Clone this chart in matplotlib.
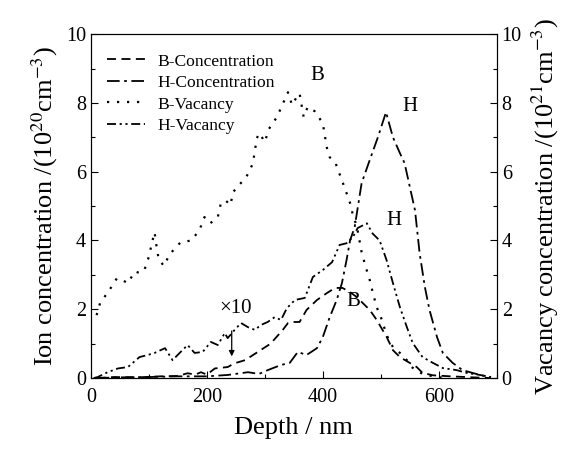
# ion / vacancy depth profiles
import numpy as np
import matplotlib
matplotlib.use("Agg")
import matplotlib.pyplot as plt

plt.rcParams['font.family'] = 'Liberation Serif'
plt.rcParams['mathtext.fontset'] = 'stix'

# data
b_conc_x = [10, 40, 80, 120, 150, 167, 180, 190, 200, 214, 236, 248, 266, 288, 310, 331, 340, 348, 360, 372,
            390, 407, 421, 434, 447, 459, 469, 481, 493, 503, 510, 521, 533, 550, 562, 572, 590, 620, 660, 690]
b_conc_y = [0.0, 0.03, 0.02, 0.05, 0.06, 0.14, 0.1, 0.17, 0.1, 0.28, 0.32, 0.43, 0.52, 0.76, 1.0, 1.4, 1.6, 1.63, 1.63, 1.98,
            2.27, 2.47, 2.62, 2.62, 2.5, 2.35, 2.18, 1.98, 1.69, 1.4, 1.2, 0.81, 0.61, 0.44, 0.32, 0.15, 0.08, 0.05, 0.02, 0.0]

h_conc_x = [10, 50, 100, 150, 200, 236, 271, 290, 305, 328, 343, 357, 372, 390, 400, 412, 424, 433, 441, 447,
            455, 467, 481, 495, 509, 521, 533, 541, 559, 567, 576, 584, 597, 607, 624, 641, 671, 690]
h_conc_y = [0.0, 0.02, 0.03, 0.05, 0.05, 0.09, 0.17, 0.12, 0.23, 0.38, 0.44, 0.76, 0.67, 0.87, 1.19, 1.77, 2.27, 2.76, 3.43, 4.0,
            4.39, 5.67, 6.34, 7.0, 7.73, 7.0, 6.54, 6.25, 4.88, 3.63, 2.65, 1.98, 1.19, 0.73, 0.44, 0.23, 0.09, 0.02]

b_vac_x = [10, 16, 31, 45, 54, 64, 76, 85, 93, 100, 105, 110, 113, 117, 126, 136, 155, 174, 188, 196,
           206, 219, 224, 232, 241, 245, 255, 268, 279, 283, 286, 291, 300, 307, 321, 331, 340, 347, 355, 360,
           367, 374, 386, 400, 407, 412, 422, 431, 438, 447, 452, 459, 467, 474, 481, 486, 493, 502, 510, 521,
           533, 545, 553, 572, 590, 610]
b_vac_y = [1.83, 2.18, 2.53, 2.9, 2.85, 2.76, 3.1, 3.05, 3.17, 3.52, 3.9, 4.24, 3.87, 3.46, 3.26, 3.6, 3.95, 4.0, 4.33, 4.68,
           4.5, 4.68, 5.06, 5.17, 5.03, 5.4, 5.6, 5.84, 6.22, 6.6, 6.97, 7.12, 6.86, 7.24, 7.59, 7.97, 8.31, 7.94, 8.17, 8.28,
           7.59, 7.88, 7.76, 7.41, 6.7, 6.42, 6.25, 5.84, 5.52, 5.09, 4.74, 4.39, 3.66, 3.23, 2.85, 2.5, 2.06, 1.69, 1.25, 0.9,
           0.73, 0.52, 0.32, 0.12, 0.05, 0.0]

h_vac_x = [5, 12, 29, 47, 64, 84, 98, 110, 128, 141, 155, 167, 179, 193, 207, 219, 231, 236, 248, 259,
           271, 283, 293, 305, 317, 328, 338, 352, 369, 383, 400, 416, 429, 441, 452, 460, 476, 486, 498, 510,
           521, 533, 545, 555, 572, 590, 607, 631, 648, 671, 690]
h_vac_y = [0.0, 0.03, 0.17, 0.28, 0.32, 0.61, 0.67, 0.73, 0.87, 0.52, 0.76, 0.96, 0.73, 0.76, 1.05, 0.96, 1.31, 1.16, 1.4, 1.6,
           1.48, 1.4, 1.54, 1.63, 1.77, 1.69, 2.03, 2.27, 2.33, 2.94, 3.14, 3.37, 3.87, 3.92, 4.1, 4.36, 4.5, 4.2, 4.0, 3.43,
           2.76, 2.06, 1.48, 1.02, 0.61, 0.44, 0.29, 0.23, 0.15, 0.09, 0.03]

fig = plt.figure(figsize=(5.71, 4.49), dpi=100)
ax = fig.add_axes([0.159, 0.158, 0.711, 0.766])
ax2 = ax.twinx()

lw = 1.3
l1, = ax.plot(b_conc_x, b_conc_y, color='black', lw=lw, linestyle=(0, (5, 3)), label='B-Concentration')
l2, = ax.plot(h_conc_x, h_conc_y, color='black', lw=lw, linestyle=(0, (7, 2.5, 1.5, 2.5)), label='H-Concentration')
l3, = ax2.plot(b_vac_x, b_vac_y, color='black', lw=1.6, linestyle=(0, (1, 3.5)), label='B-Vacancy')
l4, = ax2.plot(h_vac_x, h_vac_y, color='black', lw=lw, linestyle=(0, (5, 2, 1.2, 2, 1.2, 2)), label='H-Vacancy')

for a in (ax, ax2):
    a.set_xlim(0, 700)
    a.set_ylim(0, 10)
    a.set_yticks([0, 2, 4, 6, 8, 10])
    a.set_yticks(np.arange(1, 10, 2), minor=True)
    a.tick_params(direction='in', labelsize=14.5, length=5, width=0.8)
    a.tick_params(which='minor', direction='in', length=3, width=0.8)
ax.set_xticks([0, 200, 400, 600])
ax.set_xticks([100, 300, 500, 700], minor=True)
ax.tick_params(axis='x', pad=7)

ax.set_xlabel('Depth / nm', fontsize=19, labelpad=7)
ax.set_ylabel(r'Ion concentration /(10$^{20}$cm$^{-3}$)', fontsize=19, labelpad=4)
ax2.set_ylabel(r'Vacancy concentration /(10$^{21}$cm$^{-3}$)', fontsize=19, labelpad=6)

ax.legend(handles=[l1, l2, l3, l4], loc='upper left', frameon=False, fontsize=12.6,
          handlelength=2.2, handletextpad=0.7, labelspacing=0.3, bbox_to_anchor=(0.0, 0.99))

ax.text(378, 8.66, 'B', fontsize=15)
ax.text(538, 7.76, 'H', fontsize=15)
ax.text(510, 4.45, 'H', fontsize=15)
ax.text(441, 2.09, 'B', fontsize=15)
ax.text(250, 1.89, '\u00d710', fontsize=15, ha='center')
ax.annotate('', xy=(243, 0.55), xytext=(243, 1.45),
            arrowprops=dict(arrowstyle='-|>', color='black', lw=0.9, mutation_scale=8))

fig.savefig('out.png', dpi=100)
